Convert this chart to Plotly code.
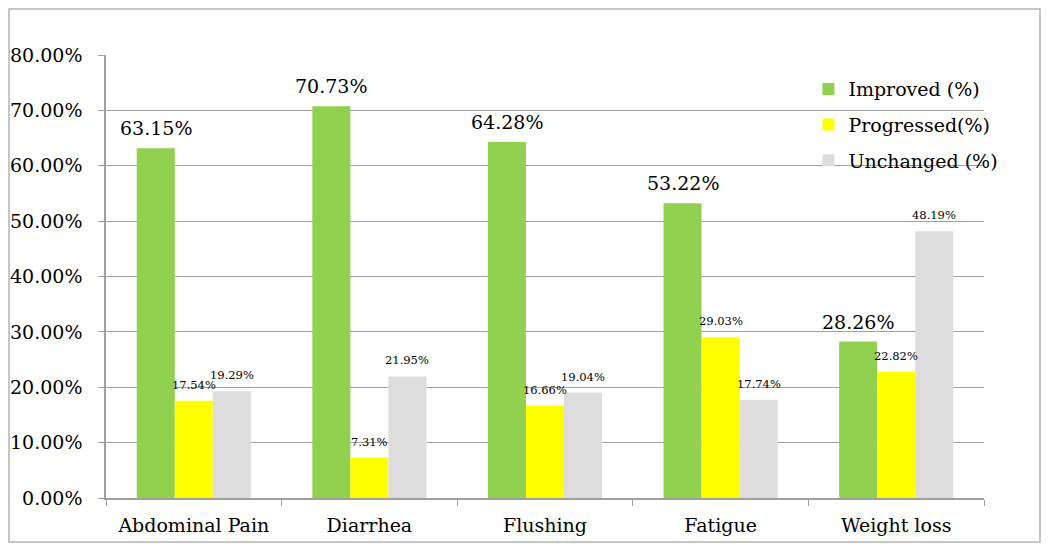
import plotly.graph_objects as go

categories = ["Abdominal Pain", "Diarrhea", "Flushing", "Fatigue", "Weight loss"]
improved = [63.15, 70.73, 64.28, 53.22, 28.26]
progressed = [17.54, 7.31, 16.66, 29.03, 22.82]
unchanged = [19.29, 21.95, 19.04, 17.74, 48.19]
series_names = ["Improved (%)", "Progressed(%)", "Unchanged (%)"]
series_values = [improved, progressed, unchanged]
colors = ["#92d050", "#ffff00", "#dddddd"]
label_sizes = [19, 11.5, 11.5]
y_ticks = [0, 10, 20, 30, 40, 50, 60, 70, 80]

FONT = "DejaVu Serif"
bargap = 0.35

fig = go.Figure()
for i, (name, vals, col) in enumerate(zip(series_names, series_values, colors)):
    fig.add_trace(go.Bar(
        x=categories, y=vals, name=name, marker=dict(color=col, line=dict(width=0)),
        legendgroup=name,
    ))

# data labels via axis coordinates
n = len(series_values)
bw = (1 - bargap) / n
annotations = []
for i, vals in enumerate(series_values):
    off = (i - (n - 1) / 2) * bw
    for j, v in enumerate(vals):
        annotations.append(dict(
            x=j + off, y=v, xref="x", yref="y", text=f"{v:.2f}%",
            showarrow=False, yanchor="bottom", yshift=7,
            font=dict(family=FONT, size=label_sizes[i], color="#000"),
        ))

# page is offset by the 8px body margin
OFF = 8
W, H = 1042, 543
ml, mt = 106 - OFF, 55 - OFF
mr = W - (984 - OFF)
mb = H - (498 - OFF)
pw, ph = W - ml - mr, H - mt - mb

def px2x(px):
    return (px - OFF - ml) / pw

def py2y(py):
    return (H - mb - (py - OFF)) / ph

fig.add_shape(type="rect", xref="paper", yref="paper",
              x0=px2x(9), x1=px2x(1040), y0=py2y(542), y1=py2y(9),
              line=dict(color="#b4b4b4", width=1.5), fillcolor="rgba(0,0,0,0)")

fig.update_layout(
    width=W, height=H, autosize=False,
    margin=dict(l=ml, r=mr, t=mt, b=mb, autoexpand=False),
    paper_bgcolor="white", plot_bgcolor="white",
    barmode="group", bargap=bargap, bargroupgap=0,
    font=dict(family=FONT, size=19, color="#000"),
    annotations=annotations,
    legend=dict(x=0.80, y=0.966, xanchor="left", yanchor="top",
                bgcolor="rgba(0,0,0,0)", font=dict(family=FONT, size=19),
                traceorder="grouped", tracegroupgap=8, itemwidth=30),
    showlegend=True,
)
fig.update_yaxes(
    range=[0, 80], tickvals=y_ticks, ticktext=[f"{t:.2f}%" for t in y_ticks],
    showgrid=True, gridcolor="#a0a0a0", gridwidth=1,
    showline=True, linecolor="#a0a0a0", linewidth=1.5,
    ticks="outside", ticklen=6, tickcolor="#a0a0a0",
    tickfont=dict(family=FONT, size=19), zeroline=False,
    ticklabelstandoff=12, automargin=False,
)
fig.update_xaxes(
    showline=True, linecolor="#a0a0a0", linewidth=1.5,
    ticks="outside", ticklen=6, tickcolor="#a0a0a0", tickson="boundaries",
    tickfont=dict(family=FONT, size=19), ticklabelstandoff=9, automargin=False,
)

fig.write_html("out.html")
